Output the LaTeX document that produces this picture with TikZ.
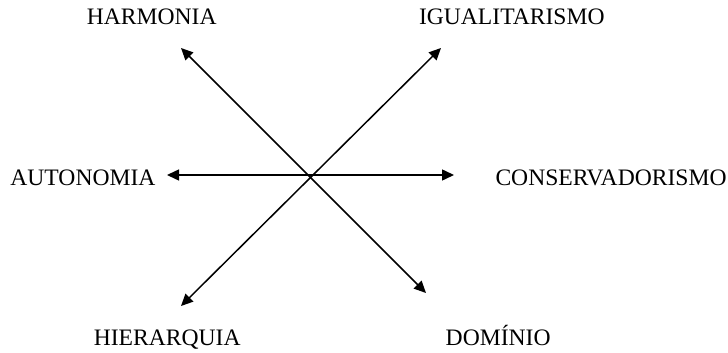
\documentclass[tikz,border=0pt]{standalone}
\usepackage{fontspec}
\setmainfont{Liberation Serif}
\usetikzlibrary{arrows.meta, positioning}

\begin{document}
\begin{tikzpicture}[
    x=0.5pt, y=-0.5pt,
    value/.style={
        inner sep=0pt, font=\fontsize{11.8}{14}\selectfont,
        text=black
    },
    axis/.style={{Triangle[length=6pt, width=5.5pt]}-{Triangle[length=6pt, width=5.5pt]},
        line width=0.75pt, black}
]
\useasboundingbox (0,0) rectangle (728,353);

% --- Labels ---
\node[value, anchor=base east] (harm) at (217,25) {HARMONIA};
\node[value, anchor=base east] (igual) at (605,25) {IGUALITARISMO};
\node[value, anchor=base west] (auton) at (10,185) {AUTONOMIA};
\node[value, anchor=base east] (cons) at (727,185) {CONSERVADORISMO};
\node[value, anchor=base east] (hier) at (241,345) {HIERARQUIA};
\node[value, anchor=base east] (dom) at (551,345) {DOMÍNIO};

% --- Arrow ends ---
\coordinate (harmtip) at (181,48);
\coordinate (domtip) at (426,293);
\coordinate (igualtip) at (441,48);
\coordinate (hiertip) at (181,306);
\coordinate (autontip) at (167,175);
\coordinate (constip) at (454,175);

% --- Arrows ---
\draw[axis] (autontip) -- (constip);
\draw[axis] (harmtip) -- (domtip);
\draw[axis] (hiertip) -- (igualtip);
\end{tikzpicture}
\end{document}
